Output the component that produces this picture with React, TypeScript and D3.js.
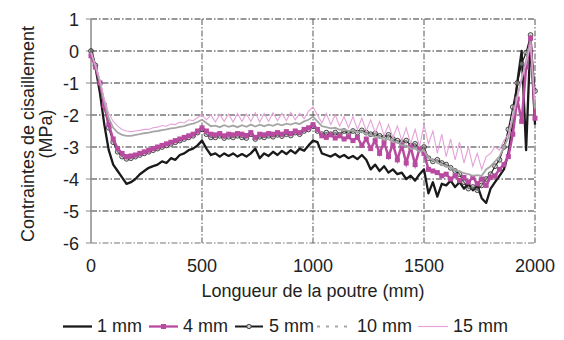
import React from "react";
import * as d3 from "d3";

const xTicks = [0, 500, 1000, 1500, 2000];
const yTicks = [1, 0, -1, -2, -3, -4, -5, -6];
const positions = d3.range(0, 2001, 20);

const oneMm = [0.05, -0.5, -1.3, -2.3, -3.1, -3.55, -3.75, -3.95, -4.15, -4.1,
  -4.0, -3.85, -3.75, -3.65, -3.6, -3.55, -3.45, -3.5, -3.35, -3.4,
  -3.25, -3.2, -3.1, -3.05, -2.95, -2.8, -3.05, -3.25, -3.2, -3.3,
  -3.2, -3.28, -3.2, -3.3, -3.22, -3.3, -3.2, -3.05, -3.35, -3.2,
  -3.28, -3.15, -3.25, -3.12, -3.22, -3.1, -3.2, -3.05, -3.12, -2.95,
  -2.8, -2.85, -3.2, -3.25, -3.3, -3.22, -3.32, -3.25, -3.35, -3.28,
  -3.38, -3.25, -3.4, -3.7, -3.55, -3.75, -3.6, -3.8, -3.7, -3.85,
  -3.8, -4.0, -3.9, -4.05, -3.85, -3.7, -4.45, -4.1, -4.55, -4.15,
  -4.2, -4.05, -4.25, -4.1, -4.3, -4.15, -4.35, -4.2, -4.6, -4.75,
  -4.3, -4.1, -3.9, -3.7, -3.2, -2.3, -1.0, 0.0, -3.1, 0.45,
  -2.3];

const fourMm = [-0.15, -0.5, -1.0, -1.7, -2.3, -2.75, -3.05, -3.2, -3.3, -3.28,
  -3.25, -3.2, -3.15, -3.1, -3.05, -3.0, -2.95, -2.9, -2.85, -2.8,
  -2.75, -2.7, -2.65, -2.6, -2.5, -2.4, -2.5, -2.6, -2.62, -2.58,
  -2.65, -2.6, -2.62, -2.58, -2.6, -2.64, -2.55, -2.7, -2.6, -2.62,
  -2.58, -2.6, -2.55, -2.6, -2.52, -2.58, -2.5, -2.55, -2.45, -2.4,
  -2.3, -2.45, -2.65, -2.7, -2.62, -2.72, -2.65, -2.75, -2.68, -2.8,
  -2.7, -2.95, -2.75, -3.05, -2.8, -3.2, -2.85, -3.3, -2.9, -3.4,
  -2.95, -3.5, -3.0, -3.55, -3.05, -3.2, -3.7, -3.75, -3.8, -3.9,
  -3.85, -4.0, -3.9, -4.05, -3.95, -4.1, -3.95, -4.15, -4.0, -4.2,
  -3.95, -3.9, -3.7, -3.55, -3.3, -2.6, -1.5, -2.2, -0.5, 0.4,
  -2.1];

const fiveMm = [0.0, -0.45, -1.0, -1.75, -2.4, -2.85, -3.15, -3.3, -3.37, -3.35,
  -3.3, -3.25, -3.2, -3.15, -3.1, -3.05, -3.0, -2.95, -2.9, -2.85,
  -2.8, -2.75, -2.7, -2.65, -2.55, -2.45, -2.6, -2.7, -2.7, -2.65,
  -2.72, -2.68, -2.7, -2.65, -2.7, -2.72, -2.6, -2.75, -2.68, -2.7,
  -2.65, -2.68, -2.62, -2.66, -2.6, -2.64, -2.55, -2.6, -2.5, -2.45,
  -2.35, -2.5, -2.6, -2.55, -2.6, -2.55, -2.62, -2.5, -2.58, -2.5,
  -2.55, -2.48, -2.55, -2.6, -2.58, -2.65, -2.7, -2.62, -2.75, -2.8,
  -2.85, -2.8, -2.95, -2.9, -3.05, -3.0, -3.35, -3.45, -3.4, -3.5,
  -3.55, -3.65, -3.75, -3.85, -4.1, -4.3, -4.25, -4.35, -4.2, -4.0,
  -3.85, -3.6, -3.4, -3.0, -2.45, -1.75, -1.0, -0.4, -0.05, 0.5,
  -1.25];

const tenMm = [-0.05, -0.45, -0.95, -1.6, -2.1, -2.4, -2.55, -2.62, -2.65, -2.65,
  -2.62, -2.6, -2.57, -2.55, -2.52, -2.5, -2.47, -2.45, -2.42, -2.4,
  -2.37, -2.35, -2.3, -2.27, -2.22, -2.15, -2.25, -2.35, -2.33, -2.38,
  -2.32, -2.37, -2.33, -2.38, -2.32, -2.37, -2.3, -2.36, -2.3, -2.35,
  -2.3, -2.34, -2.28, -2.32, -2.27, -2.3, -2.25, -2.28, -2.2, -2.15,
  -2.05, -2.2, -2.35, -2.38, -2.42, -2.4, -2.46, -2.44, -2.5, -2.48,
  -2.55, -2.52, -2.6, -2.62, -2.7, -2.68, -2.78, -2.75, -2.85, -2.85,
  -2.95, -2.95, -3.05, -3.05, -3.15, -3.1, -3.35, -3.4, -3.5, -3.55,
  -3.6, -3.65, -3.72, -3.75, -3.82, -3.85, -3.9, -3.88, -3.9, -3.7,
  -3.6, -3.45, -3.3, -3.0, -2.7, -2.1, -1.4, -0.9, -0.3, 0.3,
  -1.8];

const fifteenMm = [-0.05, -0.45, -0.9, -1.5, -1.95, -2.2, -2.35, -2.45, -2.5, -2.52,
  -2.5, -2.48, -2.45, -2.45, -2.4, -2.38, -2.33, -2.35, -2.28, -2.3,
  -2.22, -2.25, -2.15, -2.18, -2.08, -2.0, -2.15, -2.0, -2.22, -1.98,
  -2.2, -1.97, -2.22, -1.95, -2.2, -1.97, -2.2, -1.93, -2.22, -1.95,
  -2.2, -1.93, -2.18, -1.95, -2.18, -1.92, -2.15, -1.95, -2.12, -1.88,
  -1.75, -2.0, -2.25, -1.95, -2.3, -2.0, -2.35, -2.05, -2.4, -2.05,
  -2.45, -2.1, -2.5, -2.15, -2.55, -2.2, -2.65, -2.3, -2.7, -2.35,
  -2.8, -2.4, -2.9, -2.45, -3.0, -2.3, -2.9, -2.5, -3.2, -2.6,
  -3.3, -2.75, -3.4, -2.85, -3.5, -3.0, -3.6, -3.2, -3.7, -3.3,
  -3.2, -3.0, -3.1, -2.8, -2.6, -2.0, -1.5, -0.8, -0.4, 0.2,
  -1.6];

const seriesLabels = ["1 mm", "4 mm", "5 mm", "10 mm", "15 mm"];

const FONT = "'Liberation Sans', Arial, Helvetica, sans-serif";
const MAGENTA = "#b84aa0";
const PINK = "#e4a3d8";
const GRAY = "#a6a6a6";
const BLACK = "#1a1a1a";

export default function App() {
  const x = d3.scaleLinear().domain([0, 2000]).range([91, 535]);
  const y = d3.scaleLinear().domain([-6, 1]).range([243, 19]);
  const line = (vals: number[]) =>
    d3.line<number>().x((_, i) => x(positions[i])).y((v) => y(v))(vals) || "";

  const gridDash = "6,2,1.5,2";
  const legendY = 326.5;
  const legendItems = [
    { x1: 63, x2: 92, tx: 97 },
    { x1: 149, x2: 178, tx: 183 },
    { x1: 235, x2: 263, tx: 269 },
    { x1: 317, x2: 352, tx: 357 },
    { x1: 418, x2: 448, tx: 453 },
  ];

  return (
    <svg width={564} height={340} style={{ position: "absolute", left: 0, top: 0, background: "#fff" }}>
      {/* horizontal grid */}
      {yTicks.map((t) => (
        <line key={"h" + t} x1={x(0)} x2={x(2000)} y1={y(t)} y2={y(t)}
          stroke={t === -6 ? "#777" : "#333"} strokeWidth={1} strokeDasharray={gridDash} />
      ))}
      {/* vertical grid */}
      {xTicks.slice(1).map((t) => (
        <line key={"v" + t} x1={x(t)} x2={x(t)} y1={y(1)} y2={y(-6)}
          stroke="#555" strokeWidth={1} strokeDasharray={gridDash} />
      ))}
      {/* y axis */}
      <line x1={x(0)} x2={x(0)} y1={y(1)} y2={y(-6)} stroke="#8a8a8a" strokeWidth={1.5} />
      {yTicks.map((t) => (
        <line key={"yt" + t} x1={x(0) - 5} x2={x(0)} y1={y(t)} y2={y(t)} stroke="#8a8a8a" strokeWidth={1} />
      ))}
      {yTicks.map((t) => (
        <text key={"yl" + t} x={79} y={y(t) + 6.5} textAnchor="end" fontFamily={FONT} fontSize={18} fill="#222">
          {t}
        </text>
      ))}
      {xTicks.map((t) => (
        <text key={"xl" + t} x={x(t)} y={271.5} textAnchor="middle" fontFamily={FONT} fontSize={18} fill="#222">
          {t}
        </text>
      ))}
      <text x={313} y={297} textAnchor="middle" fontFamily={FONT} fontSize={18} fill="#222">
        Longueur de la poutre (mm)
      </text>
      <text transform="translate(34,134) rotate(-90)" textAnchor="middle" fontFamily={FONT} fontSize={18} fill="#222">
        Contraintes de cisaillement
      </text>
      <text transform="translate(52,134) rotate(-90)" textAnchor="middle" fontFamily={FONT} fontSize={18} fill="#222">
        (MPa)
      </text>

      {/* series */}
      <path d={line(oneMm)} fill="none" stroke={BLACK} strokeWidth={2.3} strokeLinejoin="round" />
      <path d={line(fiveMm)} fill="none" stroke={BLACK} strokeWidth={1.2} />
      {fiveMm.map((v, i) => (
        <circle key={"c" + i} cx={x(positions[i])} cy={y(v)} r={2.4} fill="#bbb" fillOpacity={0.5} stroke="#222" strokeWidth={0.8} />
      ))}
      <path d={line(fourMm)} fill="none" stroke={MAGENTA} strokeWidth={2.5} />
      {fourMm.map((v, i) => (
        <rect key={"s" + i} x={x(positions[i]) - 2.5} y={y(v) - 2.5} width={5} height={5} fill={MAGENTA} />
      ))}
      <path d={line(tenMm)} fill="none" stroke={GRAY} strokeWidth={1.8} />
      <path d={line(fifteenMm)} fill="none" stroke={PINK} strokeWidth={1.1} />

      {/* legend */}
      <line x1={legendItems[0].x1} x2={legendItems[0].x2} y1={legendY} y2={legendY} stroke={BLACK} strokeWidth={2.3} />
      <line x1={legendItems[1].x1} x2={legendItems[1].x2} y1={legendY} y2={legendY} stroke={MAGENTA} strokeWidth={2.3} />
      <rect x={(legendItems[1].x1 + legendItems[1].x2) / 2 - 2.5} y={legendY - 2.5} width={5} height={5} fill={MAGENTA} />
      <line x1={legendItems[2].x1} x2={legendItems[2].x2} y1={legendY} y2={legendY} stroke={BLACK} strokeWidth={2} />
      <circle cx={(legendItems[2].x1 + legendItems[2].x2) / 2} cy={legendY} r={2.2} fill="#ccc" stroke="#222" strokeWidth={0.8} />
      <line x1={legendItems[3].x1} x2={legendItems[3].x2} y1={legendY} y2={legendY} stroke={GRAY} strokeWidth={2} strokeDasharray="3,6" />
      <line x1={legendItems[4].x1} x2={legendItems[4].x2} y1={legendY} y2={legendY} stroke={PINK} strokeWidth={1.2} />
      {seriesLabels.map((s, i) => (
        <text key={"lg" + i} x={legendItems[i].tx} y={331.5} fontFamily={FONT} fontSize={18} fill="#222">
          {s}
        </text>
      ))}
    </svg>
  );
}
